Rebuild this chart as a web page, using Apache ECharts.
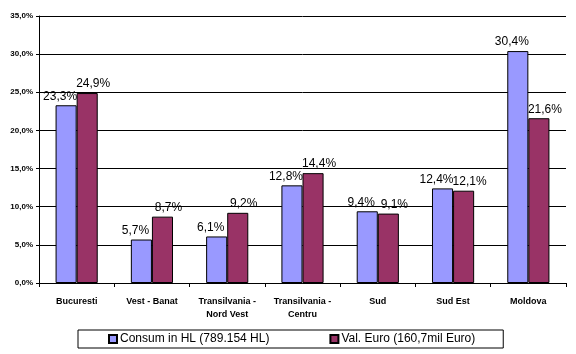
<!DOCTYPE html>
<html><head><meta charset="utf-8">
<script src="https://cdn.jsdelivr.net/npm/echarts@6/dist/echarts.min.js"></script>
<style>html,body{margin:0;padding:0;background:#fff}#c{width:576px;height:354px}</style>
</head><body><div id="c"></div>
<script>
var categories = ['Bucuresti', 'Vest - Banat', 'Transilvania -\nNord Vest', 'Transilvania -\nCentru', 'Sud', 'Sud Est', 'Moldova'];
var consumHL = [23.3, 5.7, 6.1, 12.8, 9.4, 12.4, 30.4];
var valEuro = [24.9, 8.7, 9.2, 14.4, 9.1, 12.1, 21.6];
var seriesNames = ['Consum in HL (789.154 HL)', 'Val. Euro (160,7mil Euro)'];

var fmt = function (v) { return v.toFixed(1).replace('.', ',') + '%'; };
var chart = echarts.init(document.getElementById('c'), null, {renderer: 'canvas'});
chart.setOption({
  animation: false,
  backgroundColor: '#fff',
  grid: {left: 39, right: 10, top: 16, bottom: 71, containLabel: false},
  legend: {
    left: 78, top: 330,
    padding: [3, 28, 3, 30],
    borderColor: '#000', borderWidth: 1,
    itemGap: 60, itemWidth: 8, itemHeight: 8,
    icon: 'rect',
    textStyle: {fontFamily: 'Arial, Liberation Sans', fontSize: 12, color: '#000', padding: [0, 0, 0, -2]},
    data: seriesNames
  },
  xAxis: {
    type: 'category', data: categories,
    axisLine: {lineStyle: {color: '#000', width: 1}},
    axisTick: {show: true, length: 4, lineStyle: {color: '#000'}},
    axisLabel: {interval: 0, fontFamily: 'Arial, Liberation Sans', fontWeight: 'bold', fontSize: 9, color: '#000', lineHeight: 13, margin: 12}
  },
  yAxis: {
    type: 'value', min: 0, max: 35, interval: 5,
    axisLine: {show: true, lineStyle: {color: '#000', width: 1}},
    axisTick: {show: true, length: 3, lineStyle: {color: '#000'}},
    splitLine: {show: true, lineStyle: {color: '#000', width: 1}},
    axisLabel: {formatter: fmt, fontFamily: 'Arial, Liberation Sans', fontWeight: 'bold', fontSize: 8, color: '#000', margin: 6}
  },
  series: [
    {
      name: seriesNames[0], type: 'bar', data: consumHL,
      barGap: '0%', barCategoryGap: '44%',
      itemStyle: {color: '#9999FF', borderColor: '#000', borderWidth: 1},
      label: {show: true, position: 'top', distance: 3, offset: [-6, 0], formatter: function (p) { return fmt(p.value); },
        fontFamily: 'Arial, Liberation Sans', fontSize: 12, color: '#000'}
    },
    {
      name: seriesNames[1], type: 'bar', data: valEuro,
      itemStyle: {color: '#993366', borderColor: '#000', borderWidth: 1},
      label: {show: true, position: 'top', distance: 3, offset: [6, 0], formatter: function (p) { return fmt(p.value); },
        fontFamily: 'Arial, Liberation Sans', fontSize: 12, color: '#000'}
    }
  ]
});
</script></body></html>
